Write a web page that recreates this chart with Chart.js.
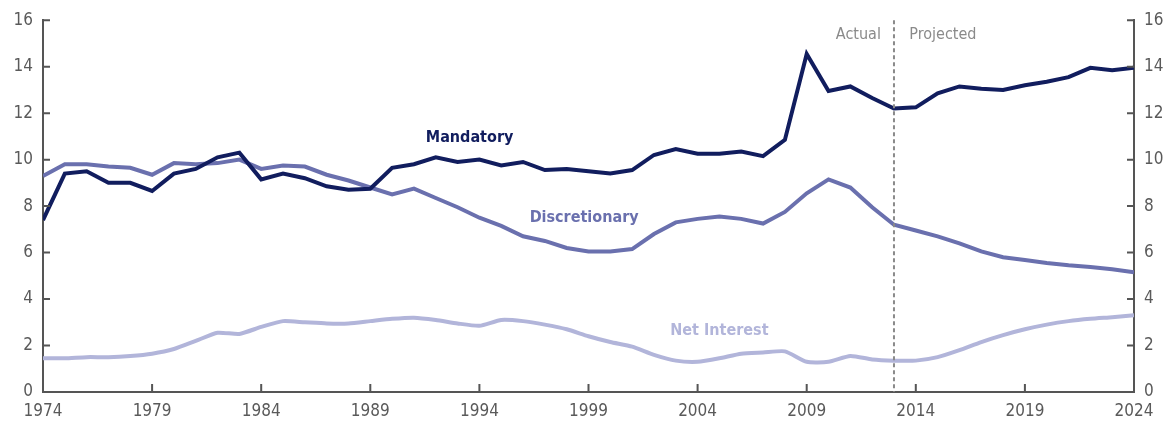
<!DOCTYPE html>
<html>
<head>
<meta charset="utf-8">
<script src="https://cdn.jsdelivr.net/npm/chart.js@4/dist/chart.umd.min.js"></script>
<style>
  html, body { margin: 0; padding: 0; background: #fff; }
  #wrap { width: 1172px; height: 428px; }
</style>
</head>
<body>
<div id="wrap"><canvas id="grafico"></canvas></div>
<script>
// dados
const anos = [1974, 1975, 1976, 1977, 1978, 1979, 1980, 1981, 1982, 1983,
  1984, 1985, 1986, 1987, 1988, 1989, 1990, 1991, 1992, 1993,
  1994, 1995, 1996, 1997, 1998, 1999, 2000, 2001, 2002, 2003,
  2004, 2005, 2006, 2007, 2008, 2009, 2010, 2011, 2012, 2013,
  2014, 2015, 2016, 2017, 2018, 2019, 2020, 2021, 2022, 2023, 2024];

const obrigatorio = [7.4, 9.4, 9.5, 9.0, 9.0, 8.65, 9.4, 9.6, 10.1, 10.3,
  9.15, 9.4, 9.2, 8.85, 8.7, 8.75, 9.65, 9.8, 10.1, 9.9,
  10.0, 9.75, 9.9, 9.55, 9.6, 9.5, 9.4, 9.55, 10.2, 10.45,
  10.25, 10.25, 10.35, 10.15, 10.85, 14.55, 12.95, 13.15, 12.65, 12.2,
  12.25, 12.85, 13.15, 13.05, 13.0, 13.2, 13.35, 13.55, 13.95, 13.85, 13.95];

const discricionario = [9.3, 9.8, 9.8, 9.7, 9.65, 9.35, 9.85, 9.8, 9.85, 10.0,
  9.6, 9.75, 9.7, 9.35, 9.1, 8.8, 8.5, 8.75, 8.35, 7.95,
  7.5, 7.15, 6.7, 6.5, 6.2, 6.05, 6.05, 6.15, 6.8, 7.3,
  7.45, 7.55, 7.45, 7.25, 7.75, 8.55, 9.15, 8.8, 7.95, 7.2,
  6.95, 6.7, 6.4, 6.05, 5.8, 5.68, 5.55, 5.45, 5.38, 5.28, 5.15];

const juros = [1.45, 1.45, 1.5, 1.5, 1.55, 1.65, 1.85, 2.2, 2.55, 2.5,
  2.8, 3.05, 3.0, 2.95, 2.95, 3.05, 3.15, 3.2, 3.1, 2.95,
  2.85, 3.1, 3.05, 2.9, 2.7, 2.4, 2.15, 1.95, 1.6, 1.35,
  1.3, 1.45, 1.65, 1.7, 1.75, 1.3, 1.3, 1.55, 1.4, 1.35,
  1.35, 1.5, 1.8, 2.15, 2.45, 2.7, 2.9, 3.05, 3.15, 3.22, 3.3];

const ticksX = [1974, 1979, 1984, 1989, 1994, 1999, 2004, 2009, 2014, 2019, 2024];
const anoDivisao = 2013;

const cores = {
  obrigatorio: "#111d5e",
  discricionario: "#6a70ae",
  juros: "#b2b5da",
  eixo: "#555555",
  texto: "#5a5a5a",
  tracejado: "#8a8a8a"
};

const fonte = "'DejaVu Sans Condensed', 'Liberation Sans Narrow', sans-serif";

const pontos = (valores) => anos.map((a, i) => ({ x: a, y: valores[i] }));

// rotulos colocados em coordenadas de dados
const rotulos = [
  { texto: "Mandatory", x: 1993.55, y: 10.95, cor: cores.obrigatorio, negrito: true, alinhar: "center" },
  { texto: "Discretionary", x: 1998.8, y: 7.5, cor: cores.discricionario, negrito: true, alinhar: "center" },
  { texto: "Net Interest", x: 2005.0, y: 2.65, cor: cores.juros, negrito: true, alinhar: "center" },
  { texto: "Actual", x: 2012.4, y: 15.35, cor: cores.tracejado, negrito: false, alinhar: "right" },
  { texto: "Projected", x: 2013.7, y: 15.35, cor: cores.tracejado, negrito: false, alinhar: "left" }
];

const marcas = {
  id: "marcas",
  afterDatasetsDraw(chart) {
    const { ctx, chartArea, scales } = chart;
    ctx.save();

    // linha tracejada actual / projected
    const xd = scales.x.getPixelForValue(anoDivisao);
    ctx.strokeStyle = cores.tracejado;
    ctx.lineWidth = 2;
    ctx.setLineDash([4, 3]);
    ctx.beginPath();
    ctx.moveTo(xd, scales.y.getPixelForValue(16));
    ctx.lineTo(xd, scales.y.getPixelForValue(0));
    ctx.stroke();
    ctx.setLineDash([]);

    // marcas dos eixos voltadas para dentro
    ctx.strokeStyle = cores.eixo;
    ctx.lineWidth = 2;
    ctx.beginPath();
    scales.x.ticks.forEach(t => {
      const px = scales.x.getPixelForValue(t.value);
      ctx.moveTo(px, chartArea.bottom);
      ctx.lineTo(px, chartArea.bottom - 8);
    });
    scales.y.ticks.forEach(t => {
      const py = scales.y.getPixelForValue(t.value);
      ctx.moveTo(chartArea.left, py);
      ctx.lineTo(chartArea.left + 7, py);
    });
    scales.y2.ticks.forEach(t => {
      const py = scales.y2.getPixelForValue(t.value);
      ctx.moveTo(chartArea.right, py);
      ctx.lineTo(chartArea.right - 7, py);
    });
    ctx.stroke();

    // textos
    ctx.textBaseline = "middle";
    rotulos.forEach(r => {
      ctx.font = (r.negrito ? "bold " : "") + "16px " + fonte;
      ctx.fillStyle = r.cor;
      ctx.textAlign = r.alinhar;
      ctx.fillText(r.texto, scales.x.getPixelForValue(r.x), scales.y.getPixelForValue(r.y));
    });
    ctx.restore();
  }
};

const eixoY = (posicao, largura) => ({
  type: "linear",
  position: posicao,
  min: 0,
  max: 16,
  ticks: { stepSize: 2, color: cores.texto, padding: 10, font: { family: fonte, size: 17 } },
  grid: { display: false, drawTicks: false },
  border: { display: true, color: cores.eixo, width: 2 },
  afterFit: (escala) => { escala.width = largura; }
});

new Chart(document.getElementById("grafico"), {
  type: "line",
  data: {
    datasets: [
      { label: "Mandatory", data: pontos(obrigatorio), borderColor: cores.obrigatorio, borderWidth: 4, pointRadius: 0, tension: 0 },
      { label: "Discretionary", data: pontos(discricionario), borderColor: cores.discricionario, borderWidth: 4, pointRadius: 0, tension: 0 },
      { label: "Net Interest", data: pontos(juros), borderColor: cores.juros, borderWidth: 4, pointRadius: 0, tension: 0.2 }
    ]
  },
  options: {
    responsive: true,
    maintainAspectRatio: false,
    animation: false,
    layout: { padding: { top: 19, left: 0, right: 0, bottom: 0 } },
    plugins: {
      legend: { display: false },
      tooltip: { enabled: false }
    },
    scales: {
      x: {
        type: "linear",
        min: 1974,
        max: 2024,
        afterBuildTicks: (escala) => { escala.ticks = ticksX.map(v => ({ value: v })); },
        ticks: {
          color: cores.texto,
          padding: 9,
          maxRotation: 0,
          autoSkip: false,
          font: { family: fonte, size: 17 },
          callback: (v) => String(v)
        },
        grid: { display: false, drawTicks: false },
        border: { display: true, color: cores.eixo, width: 2 },
        afterFit: (escala) => { escala.height = 36; }
      },
      y: eixoY("left", 43),
      y2: eixoY("right", 38)
    }
  },
  plugins: [marcas]
});
</script>
</body>
</html>
